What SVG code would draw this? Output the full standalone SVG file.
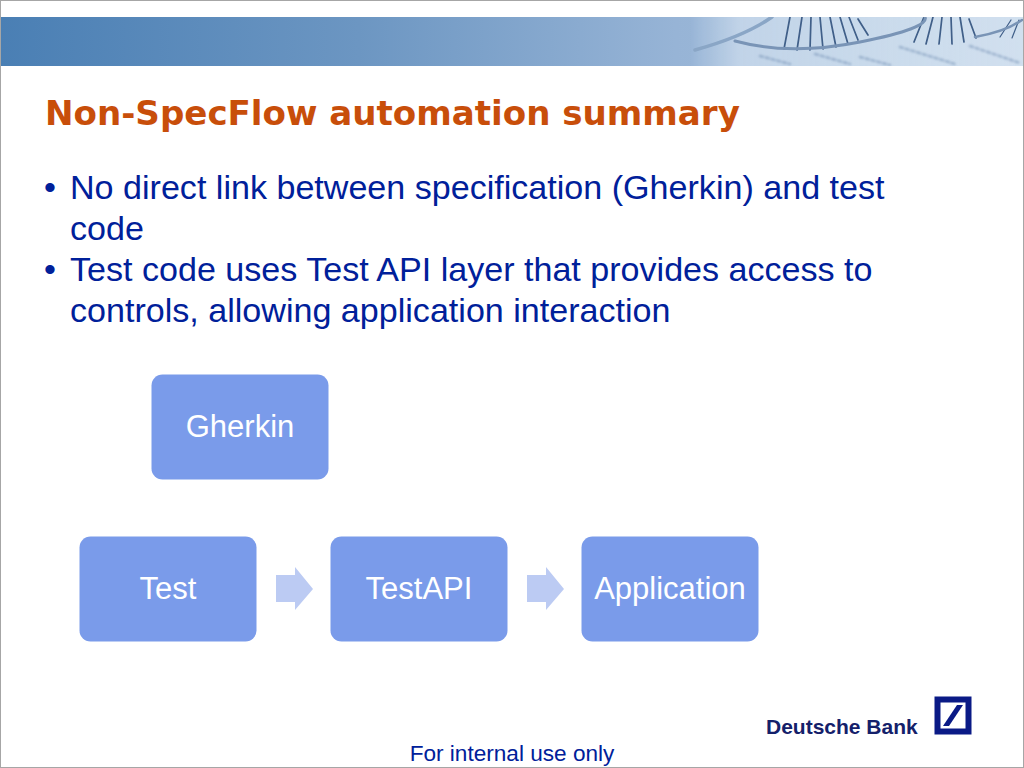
<svg xmlns="http://www.w3.org/2000/svg" width="1024" height="768" viewBox="0 0 1024 768">
<style>
.box{fill:#7a9bea}
.lbl{font:31px "Liberation Sans",Arial,sans-serif;fill:#fff;text-anchor:middle}
.body{font:34.100px "Liberation Sans",Arial,sans-serif;fill:#00209a}
.arrow{fill:#bccbf3}
.hx{fill:none;stroke-linecap:round}
</style>
<defs>
<linearGradient id="band" x1="0" x2="1" y1="0" y2="0">
<stop offset="0" stop-color="#4a7fb4"/><stop offset="0.35" stop-color="#6c96c2"/><stop offset="0.66" stop-color="#97b4d6"/><stop offset="1" stop-color="#a9c3de"/>
</linearGradient>
<linearGradient id="pale" x1="0" x2="1" y1="0" y2="0">
<stop offset="0" stop-color="#dbe7f3" stop-opacity="0"/><stop offset="0.15" stop-color="#dbe7f3" stop-opacity=".6"/><stop offset="1" stop-color="#dbe7f3" stop-opacity=".8"/>
</linearGradient>
<filter id="soft" x="-5%" y="-20%" width="110%" height="140%"><feGaussianBlur stdDeviation="0.6"/></filter>
<filter id="softer" x="-5%" y="-20%" width="110%" height="140%"><feGaussianBlur stdDeviation="1"/></filter>
<clipPath id="bandclip"><rect x="1" y="17" width="1022" height="49"/></clipPath>
</defs>
<rect width="1024" height="768" fill="#fff"/>
<rect x="0.500" y="0.500" width="1023" height="767" fill="none" stroke="#a6a6a6"/>
<g id="header">
<rect x="1" y="17" width="1022" height="49" fill="url(#band)"/>
<g clip-path="url(#bandclip)">
<rect x="690" y="17" width="333" height="49" fill="url(#pale)" filter="url(#soft)"/>
<g class="hx" stroke="#6d8cb2" stroke-opacity=".5" stroke-width="2.500" stroke-dasharray="3 3" filter="url(#softer)">
<path d="M760 56l30 8M815 54l35 10M900 47l55 17M970 46l50 17M860 57l30 8"/>
</g>
<g class="hx" stroke="#3f5e88" stroke-width="1.700" filter="url(#soft)">
<path d="M790 17L784 49M802 17L797 50M811 17L810 50M820 17L823 49M830 17L836 47M840 17L848 44M849 17L858 40M858 19L868 35"/>
<path d="M924 17L914 42M933 17L926 44M942 17L939 44M951 17L952 44M960 17L964 42M969 19L976 38"/>
<path d="M1011 20L1000 37M1019 20L1012 38" stroke-width="1.200"/>
</g>
<g class="hx" stroke="#7994b6" stroke-width="3.500" filter="url(#soft)">
<path d="M695 50Q745 36 772 17" stroke="#8aa6c6"/>
<path d="M735 41Q790 56 860 42T925 17" stroke-width="3"/>
<path d="M975 37Q1005 32 1022 20" stroke-width="2.500"/>
</g>
</g>
</g>
<text id="title" x="45" y="125" font-family="'DejaVu Sans',Verdana,sans-serif" font-weight="700" font-size="34.100" fill="#c84e0a">Non-SpecFlow automation summary</text>
<g id="bullets" class="body">
<text x="44" y="199">•</text><text x="70" y="199">No direct link between specification (Gherkin) and test</text>
<text x="70" y="240">code</text>
<text x="44" y="281">•</text><text x="70" y="281">Test code uses Test API layer that provides access to</text>
<text x="70" y="322">controls, allowing application interaction</text>
</g>
<g id="gherkin"><rect class="box" x="151.500" y="374.500" width="177" height="105" rx="11"/><text class="lbl" x="240" y="437">Gherkin</text></g>
<g id="test"><rect class="box" x="79.500" y="536.500" width="177" height="105" rx="11"/><text class="lbl" x="168" y="599">Test</text></g>
<g id="testapi"><rect class="box" x="330.500" y="536.500" width="177" height="105" rx="11"/><text class="lbl" x="419" y="599">TestAPI</text></g>
<g id="application"><rect class="box" x="581.500" y="536.500" width="177" height="105" rx="11"/><text class="lbl" x="670" y="599">Application</text></g>
<g id="connectors">
<path class="arrow" d="M276 575H295V567L313 589L295 610V602H276Z"/>
<path class="arrow" d="M527 575H546V567L564 589L546 610V602H527Z"/>
</g>
<g id="logo">
<text x="766" y="734" font-family="'Liberation Sans',Arial,sans-serif" font-weight="700" font-size="21" fill="#14206a">Deutsche Bank</text>
<rect x="937.500" y="699.500" width="31" height="32" fill="none" stroke="#0a1a86" stroke-width="6"/>
<path d="M943 726L957 705H963L949 726Z" fill="#0a1a86"/>
</g>
<text id="footer" x="512" y="761" text-anchor="middle" font-family="'Liberation Sans',Arial,sans-serif" font-size="22.600" fill="#00209a">For internal use only</text>
</svg>
